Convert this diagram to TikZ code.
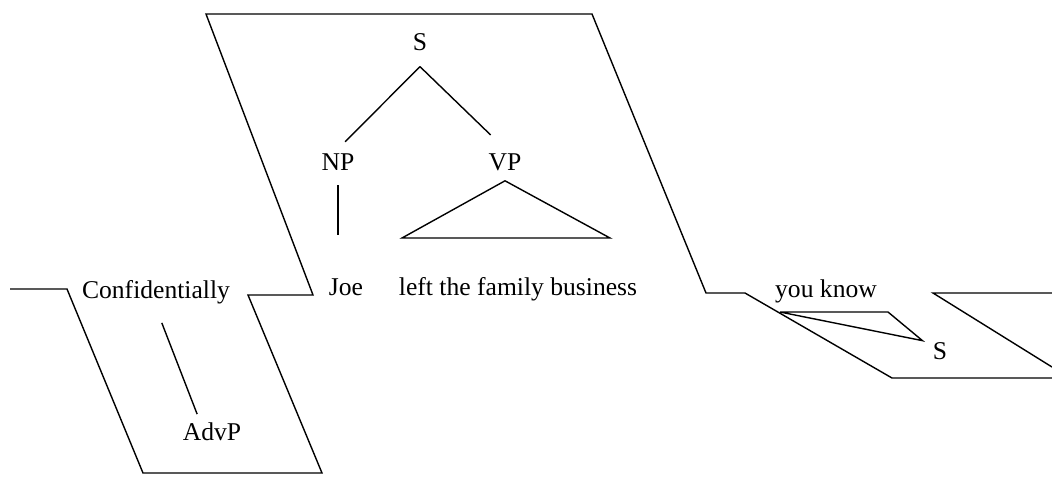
\documentclass[tikz,border=0pt]{standalone}
\usepackage{fontspec}
\setmainfont{Liberation Serif}
\usepackage{tikz}
\usetikzlibrary{positioning}
\tikzset{
  % --- words and categories --------------------------------------------------
  word/.style={inner sep=2pt,anchor=base,font=\fontsize{12.8}{15}\selectfont},
  cat/.style={word},
  % --- lines -----------------------------------------------------------------
  plane/.style={line width=0.7pt,line join=miter},
  branch/.style={line width=0.7pt},
  roof/.style={branch,line join=miter},
}

\begin{document}
\begin{tikzpicture}[x=0.5pt, y=-0.5pt]
  \useasboundingbox (0,0) rectangle (1052,479);

  \node[cat]  (s)    at (420,50)  {S};
  \node[cat]  (np)   at (338,170) {NP};
  \node[cat]  (vp)   at (505,170) {VP};
  \node[word] (joe)  at (346,295) {Joe};
  \node[word] (ltfb) at (518,295) {left the family business};
  \node[word] (conf) at (156,298) {Confidentially};
  \node[cat]  (advp) at (212,440) {AdvP};
  \node[word] (yk)   at (826,297) {you know};
  \node[cat]  (s2)   at (940,359) {S};

  % the folded ribbon of planes
  \coordinate (r1)  at (10,289);
  \coordinate (r2)  at (67,289);
  \coordinate (r3)  at (143,473);
  \coordinate (r4)  at (322,473);
  \coordinate (r5)  at (248,295);
  \coordinate (r6)  at (313,295);
  \coordinate (r7)  at (206,14);
  \coordinate (r8)  at (592,14);
  \coordinate (r9)  at (706,293);
  \coordinate (r10) at (745,293);
  \coordinate (r11) at (892,378);
  \coordinate (r12) at (1052,378);
  \draw[plane] (r1) -- (r2) -- (r3) -- (r4) -- (r5) -- (r6) -- (r7) -- (r8)
               -- (r9) -- (r10) -- (r11) -- (r12);

  \coordinate (f1) at (1052,293);
  \coordinate (f2) at (933,293);
  \coordinate (f3) at (1052,367);
  \draw[plane] (f1) -- (f2) -- (f3);

  % tree on the main plane
  \coordinate (sapex) at ([yshift=-6pt]s.south);
  \draw[branch,shorten >=5pt]  (sapex) -- (np.north);
  \draw[branch,shorten >=10pt] (sapex) -- (vp.north);
  \draw[branch,shorten <=5.5pt,shorten >=19.5pt] (np.south) -- (np.south |- joe.north);
  \coordinate (bl) at (402,238);
  \coordinate (br) at (610,238);
  \draw[roof] ([yshift=-3pt]vp.south) -- (bl) -- (br) -- cycle;

  % left plane
  \draw[branch,shorten <=8pt,shorten >=2pt] (conf.south) -- (advp.135);

  % right plane
  \coordinate (tl) at (780,312);
  \coordinate (tr) at (888,312);
  \draw[roof] (tl) -- (tr) -- ([shift={(-3pt,-1.5pt)}]s2.north west) -- cycle;
\end{tikzpicture}
\end{document}
